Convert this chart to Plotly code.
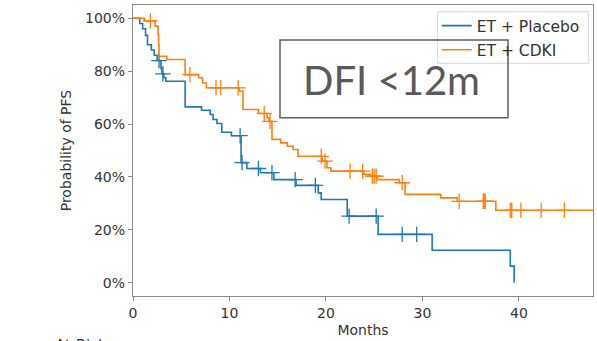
import plotly.graph_objects as go

# Kaplan-Meier step estimates: month of each step and survival right after it
placebo_times = [0, 0.7, 1.0, 1.3, 1.5, 1.9, 2.2, 2.5, 2.9, 3.0, 3.2, 3.4, 5.4, 7.1, 8.0, 8.3,
                 8.7, 9.2, 10.2, 11.2, 11.8, 13.2, 14.6, 16.9, 19.2, 19.5, 22.2, 25.4, 31.0,
                 39.1, 39.5]
placebo_surv = [1.0, 0.98, 0.96, 0.935, 0.90, 0.88, 0.86, 0.84, 0.81, 0.79, 0.775, 0.762, 0.665,
                0.652, 0.636, 0.617, 0.602, 0.569, 0.556, 0.454, 0.432, 0.416, 0.39, 0.368, 0.34,
                0.315, 0.252, 0.183, 0.123, 0.063, 0.0]
placebo_censored = [2.7, 3.1, 11.1, 11.3, 13.0, 14.4, 16.8, 18.9, 22.4, 25.2, 27.9, 29.4]
placebo_last_followup = 39.5

cdki_times = [0, 1.2, 2.3, 2.6, 2.65, 2.7, 3.5, 5.4, 6.8, 7.2, 7.6, 11.0, 11.4, 13.0, 13.9, 14.1,
              14.4, 15.3, 16.0, 16.6, 17.1, 19.6, 20.1, 20.5, 23.9, 24.6, 25.3, 27.6, 28.2, 31.9,
              33.6, 37.6]
cdki_surv = [1.0, 0.99, 0.97, 0.94, 0.90, 0.856, 0.844, 0.787, 0.775, 0.755, 0.737, 0.725, 0.655,
             0.64, 0.624, 0.61, 0.542, 0.529, 0.516, 0.504, 0.478, 0.46, 0.435, 0.422, 0.41, 0.403,
             0.39, 0.378, 0.334, 0.321, 0.308, 0.274]
cdki_censored = [1.8, 5.9, 8.6, 9.1, 10.9, 13.6, 14.2, 19.5, 19.9, 22.5, 23.8, 24.8, 25.0, 25.2,
                 27.9, 33.8, 36.3, 36.4, 36.5, 39.1, 39.25, 40.2, 42.3, 44.7]
cdki_last_followup = 48.5

x_ticks = [0, 10, 20, 30, 40]
y_ticks = [0, 0.2, 0.4, 0.6, 0.8, 1.0]

BLUE = "#1f77b4"
ORANGE = "#ff7f0e"
TEXT = "#333333"
SPINE = "#8a8a8a"
FONT = "DejaVu Sans"


def surv_at(times, surv, t):
    """Value of the step function at time t."""
    val = surv[0]
    for ti, si in zip(times, surv):
        if ti <= t:
            val = si
        else:
            break
    return val


fig = go.Figure()

for name, times, surv, cens, last, color in [
    ("ET + Placebo", placebo_times, placebo_surv, placebo_censored, placebo_last_followup, BLUE),
    ("ET + CDKI", cdki_times, cdki_surv, cdki_censored, cdki_last_followup, ORANGE),
]:
    xs = list(times) + [last]
    ys = list(surv) + [surv[-1]]
    fig.add_trace(go.Scatter(
        x=xs, y=ys, mode="lines", name=name, line=dict(color=color, width=1.6, shape="hv"),
        legendgroup=name,
    ))
    fig.add_trace(go.Scatter(
        x=cens, y=[surv_at(times, surv, t) for t in cens], mode="markers", showlegend=False,
        legendgroup=name,
        marker=dict(symbol="cross-thin", size=11, color=color, line=dict(width=1.3, color=color)),
    ))

W, H = 597, 341
L, R, T, B = 133, 4, 5, 45
pw, ph = W - L - R, H - T - B


def px(xp):
    return (xp - L) / pw


def py(yp):
    return (H - B - yp) / ph


axis_common = dict(
    showline=True, mirror=True, linecolor=SPINE, linewidth=1.4,
    ticks="outside", ticklen=4, tickwidth=1.2, tickcolor=SPINE,
    showgrid=False, zeroline=False,
    tickfont=dict(family=FONT, size=14, color=TEXT),
)

fig.update_layout(
    width=W, height=H,
    margin=dict(l=L, r=R, t=T, b=B),
    paper_bgcolor="white", plot_bgcolor="white",
    xaxis=dict(range=[0, 47.67], tickvals=x_ticks,
               title=dict(text="Months", font=dict(family=FONT, size=14, color=TEXT),
                          standoff=5),
               **axis_common),
    yaxis=dict(range=[-0.05, 1.05], tickvals=y_ticks, tickformat=".0%",
               title=dict(text="Probability of PFS",
                          font=dict(family=FONT, size=14, color=TEXT), standoff=10),
               **axis_common),
    legend=dict(x=px(436.7), y=py(9.0), xanchor="left", yanchor="top",
                bgcolor="rgba(0,0,0,0)", borderwidth=0, tracegroupgap=1,
                font=dict(family=FONT, size=15.5, color=TEXT)),
    shapes=[
        # legend frame
        dict(type="rect", xref="paper", yref="paper", x0=px(437.7), x1=px(588.3),
             y0=py(63.3), y1=py(11.7), line=dict(color="#d6d6d6", width=1),
             fillcolor="rgba(255,255,255,0.8)", layer="above"),
        # DFI label box
        dict(type="rect", xref="paper", yref="paper", x0=px(280), x1=px(508),
             y0=py(117.7), y1=py(40), line=dict(color="#5f5f5f", width=1.5),
             fillcolor="rgba(0,0,0,0)", layer="above"),
    ],
    annotations=[
        dict(text="DFI <12m", xref="paper", yref="paper", x=px(391.7), y=py(79.7),
             xanchor="center", yanchor="middle", showarrow=False,
             font=dict(family="Lato", size=40, color="#595959")),
        dict(text="At Risk", xref="paper", yref="paper", x=px(53), y=py(335),
             xanchor="left", yanchor="top", showarrow=False,
             font=dict(family=FONT, size=15, color=TEXT)),
    ],
)

fig.write_html("out.html")
